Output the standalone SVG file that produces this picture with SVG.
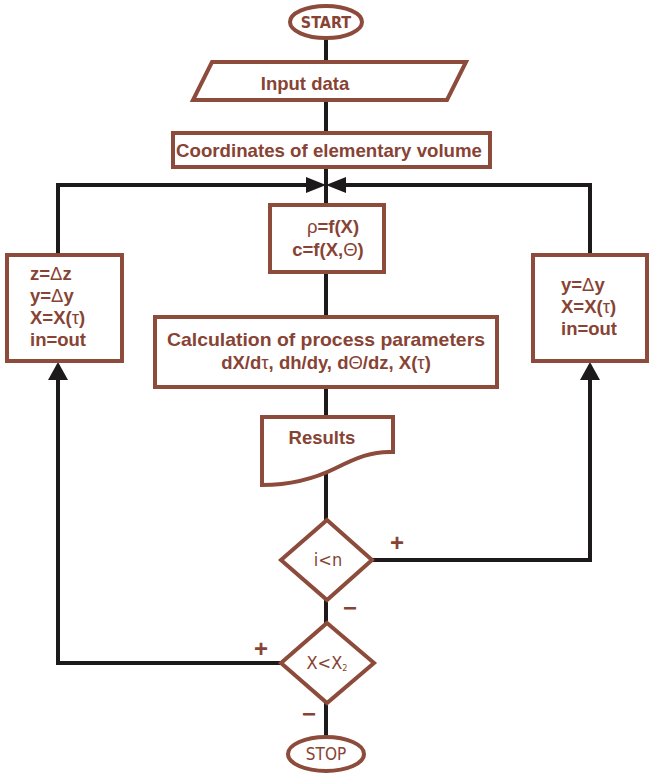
<svg xmlns="http://www.w3.org/2000/svg" width="649" height="773" viewBox="0 0 649 773">
<style>
.sh{fill:#fff;stroke:#8d4b3b;stroke-width:4}
.ln{fill:none;stroke:#1c1a1a;stroke-width:4}
.ah{fill:#1c1a1a}
.t{font-family:"Liberation Sans",Arial,sans-serif;font-weight:bold;font-size:18.5px;fill:#874334}
.c{font-family:"DejaVu Sans Condensed","DejaVu Sans",sans-serif;font-size:16px;fill:#874334}
.s{font-weight:normal}
.sg{font-family:"Liberation Sans",Arial,sans-serif;font-weight:bold;font-size:24px;fill:#874334}
</style>
<rect width="649" height="773" fill="#fff"/>
<g id="connectors">
<path class="ln" d="M326,39V62M326,100V133M326,167V205M326,272V317M326,387V417M326,468V520M326,600V623M326,703V736"/>
<path class="ln" d="M281,663H58V376M58,255V185H310"/>
<path class="ln" d="M372,560H590V376M590,255V185H342"/>
<polygon class="ah" points="306,177 326,185 306,193"/>
<polygon class="ah" points="346,177 326,185 346,193"/>
<polygon class="ah" points="48,380 58,362 68,380"/>
<polygon class="ah" points="580,380 590,362 600,380"/>
</g>
<g id="start">
<ellipse class="sh" cx="326" cy="22" rx="36" ry="16" stroke-width="4.5"/>
<text class="c" x="326" y="28" text-anchor="middle" font-weight="bold">START</text>
</g>
<g id="input">
<polygon class="sh" points="212,62 466,62 447,100 193,100"/>
<text class="t" x="305" y="90" text-anchor="middle">Input data</text>
</g>
<g id="coords">
<rect class="sh" x="173" y="133" width="317" height="34"/>
<text class="t" x="329" y="157" text-anchor="middle" textLength="306" lengthAdjust="spacingAndGlyphs">Coordinates of elementary volume</text>
</g>
<g id="rho">
<rect class="sh" x="270" y="205" width="114" height="67"/>
<text class="t" x="333" y="233" text-anchor="middle"><tspan class="s">ρ</tspan>=f(X)</text>
<text class="t" x="328" y="256" text-anchor="middle">c=f(X,<tspan class="s">Θ</tspan>)</text>
</g>
<g id="left">
<rect class="sh" x="7" y="255" width="115" height="106"/>
<text class="t" x="30" y="280">z=<tspan class="s">Δ</tspan>z</text>
<text class="t" x="30" y="302">y=<tspan class="s">Δ</tspan>y</text>
<text class="t" x="30" y="324">X=X(<tspan class="s">τ</tspan>)</text>
<text class="t" x="30" y="346">in=out</text>
</g>
<g id="right">
<rect class="sh" x="533" y="255" width="114" height="106"/>
<text class="t" x="561" y="291">y=<tspan class="s">Δ</tspan>y</text>
<text class="t" x="561" y="313">X=X(<tspan class="s">τ</tspan>)</text>
<text class="t" x="561" y="335">in=out</text>
</g>
<g id="calc">
<rect class="sh" x="155" y="317" width="342" height="70"/>
<text class="t" x="326" y="346" text-anchor="middle" textLength="318" lengthAdjust="spacingAndGlyphs">Calculation of process parameters</text>
<text class="t" x="326" y="369" text-anchor="middle">dX/d<tspan class="s">τ</tspan>, dh/dy, d<tspan class="s">Θ</tspan>/dz, X(<tspan class="s">τ</tspan>)</text>
</g>
<g id="results">
<path class="sh" d="M262,417H393V452C372,451 356,458 336,468C316,478 292,485 262,485Z"/>
<text class="t" x="322" y="444" text-anchor="middle">Results</text>
</g>
<g id="cond1">
<polygon class="sh" points="327,520 372,560 327,600 281,560" stroke-width="3.5"/>
<text class="c" x="328" y="566" text-anchor="middle" style="font-size:18px">i&lt;n</text>
<text class="sg" x="397" y="551" text-anchor="middle">+</text>
<text class="sg" x="350" y="616" text-anchor="middle">−</text>
</g>
<g id="cond2">
<polygon class="sh" points="327,623 374,663 327,703 281,663" stroke-width="5"/>
<text class="c" x="327" y="669" text-anchor="middle" style="font-size:18px">X&lt;X<tspan style="font-size:9px" dy="2">2</tspan></text>
<text class="sg" x="261" y="657" text-anchor="middle">+</text>
<text class="sg" x="309" y="722" text-anchor="middle">−</text>
</g>
<g id="stop">
<ellipse class="sh" cx="326" cy="754" rx="38" ry="17" stroke-width="5"/>
<text class="c" x="326" y="760" text-anchor="middle" style="font-size:17px">STOP</text>
</g>
</svg>
